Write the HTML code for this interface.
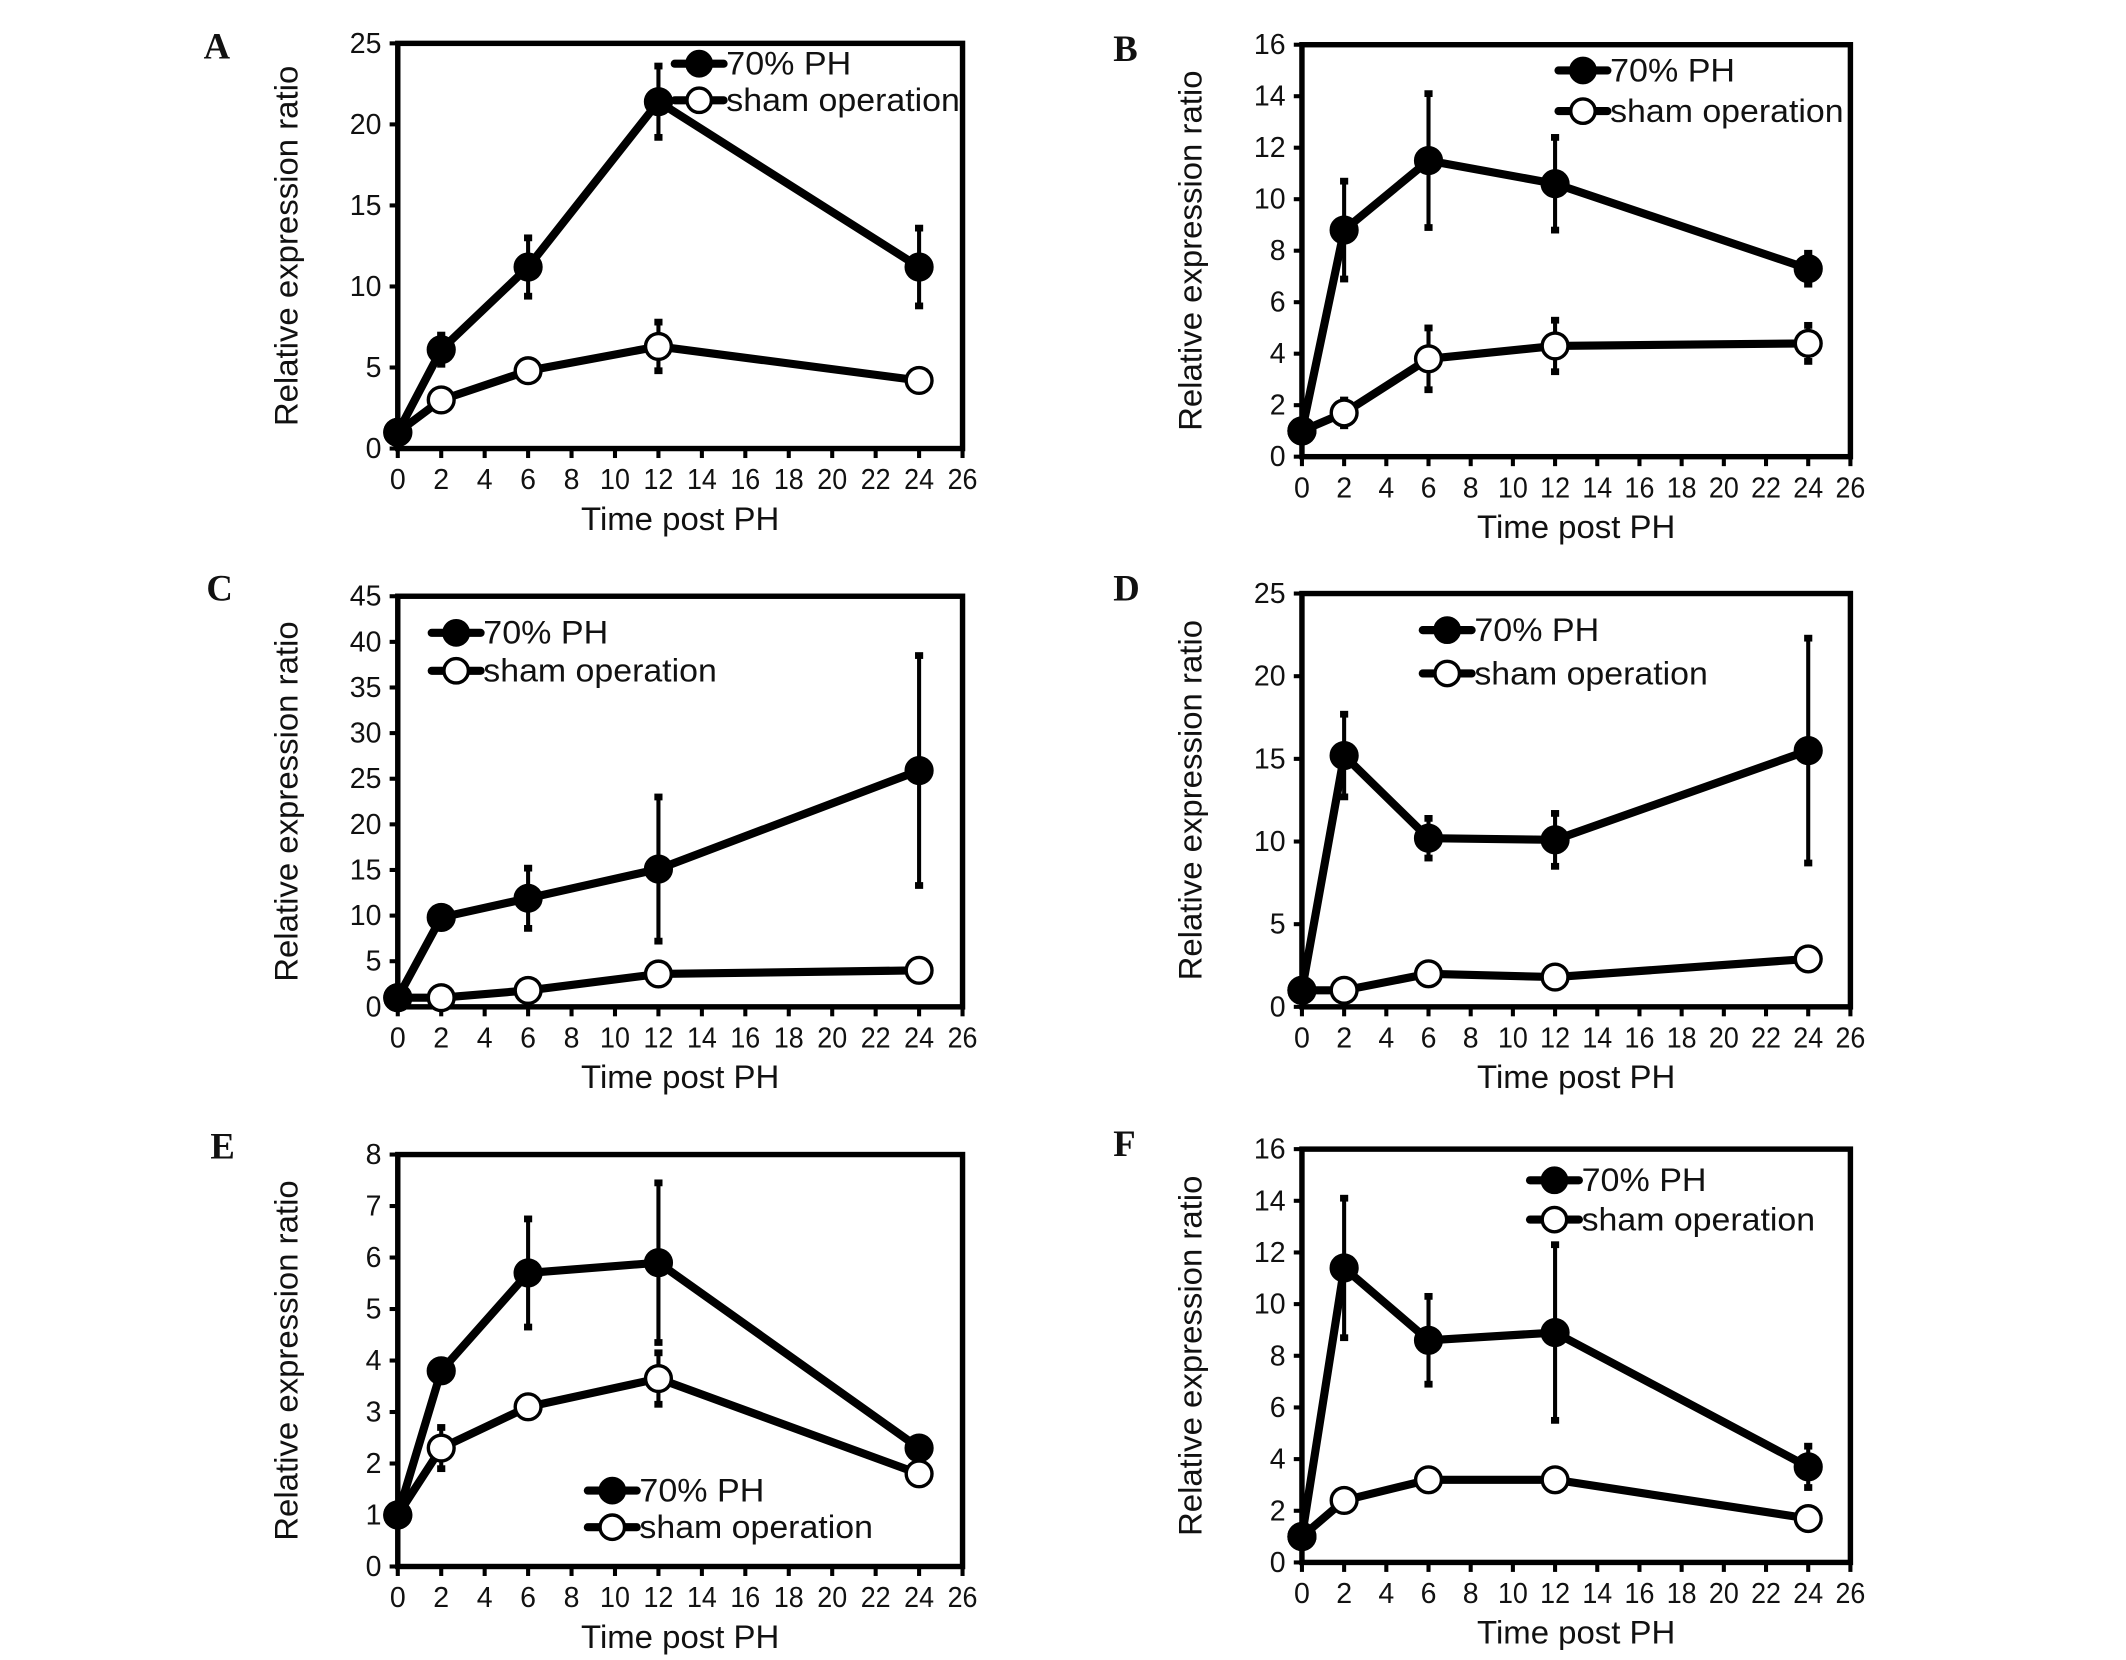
<!DOCTYPE html>
<html><head><meta charset="utf-8"><style>
html,body{margin:0;padding:0;background:#fff;}
svg{display:block;}
text{font-family:"Liberation Sans",Arial,sans-serif;fill:#111;}
</style></head>
<body>
<svg id="fig" width="2126" height="1660" viewBox="0 0 1566 1225" preserveAspectRatio="none" xmlns="http://www.w3.org/2000/svg"></svg>
<script>
// shared x categories (hours post PH)
const timePoints = [0, 2, 6, 12, 24];
const xTicks = [0,2,4,6,8,10,12,14,16,18,20,22,24,26];

// Panel A
const phA = [1, 6.1, 11.2, 21.4, 11.2];
const phErrA = [0.3, 0.9, 1.8, 2.2, 2.4];
const shamA = [1, 3.0, 4.8, 6.3, 4.2];
const shamErrA = [0, 0.3, 0.3, 1.5, 0.3];
const yTicksA = [0,5,10,15,20,25];
// Panel B
const phB = [1, 8.8, 11.5, 10.6, 7.3];
const phErrB = [0, 1.9, 2.6, 1.8, 0.6];
const shamB = [1, 1.7, 3.8, 4.3, 4.4];
const shamErrB = [0, 0.5, 1.2, 1.0, 0.7];
const yTicksB = [0,2,4,6,8,10,12,14,16];
// Panel C
const phC = [1, 9.8, 11.9, 15.1, 25.9];
const phErrC = [0, 0.5, 3.3, 7.9, 12.6];
const shamC = [1, 1.0, 1.8, 3.6, 4.0];
const shamErrC = [0, 0.2, 0.2, 0.3, 0.3];
const yTicksC = [0,5,10,15,20,25,30,35,40,45];
// Panel D
const phD = [1, 15.2, 10.2, 10.1, 15.5];
const phErrD = [0, 2.5, 1.2, 1.6, 6.8];
const shamD = [1, 1.0, 2.0, 1.8, 2.9];
const shamErrD = [0, 0.2, 0.3, 0.3, 0.3];
const yTicksD = [0,5,10,15,20,25];
// Panel E
const phE = [1, 3.8, 5.7, 5.9, 2.3];
const phErrE = [0, 0.1, 1.05, 1.55, 0.1];
const shamE = [1, 2.3, 3.1, 3.65, 1.8];
const shamErrE = [0, 0.4, 0.15, 0.5, 0.2];
const yTicksE = [0,1,2,3,4,5,6,7,8];
// Panel F
const phF = [1, 11.4, 8.6, 8.9, 3.7];
const phErrF = [0, 2.7, 1.7, 3.4, 0.8];
const shamF = [1, 2.4, 3.2, 3.2, 1.7];
const shamErrF = [0, 0.2, 0.2, 0.2, 0.2];
const yTicksF = [0,2,4,6,8,10,12,14,16];

const NS = "http://www.w3.org/2000/svg";
const svg = document.getElementById('fig');
function mk(tag, attrs, parent){
  const e = document.createElementNS(NS, tag);
  for (const k in attrs) e.setAttribute(k, attrs[k]);
  (parent||svg).appendChild(e);
  return e;
}
function panel(o){
  const g = mk('g', {});
  
  
  const ymax = o.yTicks[o.yTicks.length-1];
  const xs = v => o.L + (v/26)*(o.R - o.L);
  const ys = v => o.B - (v/ymax)*(o.B - o.T);
  const lt = mk('text', {x:o.lx, y:o.ly, 'font-size':27, style:'font-family:"Liberation Serif",serif;font-weight:bold'}, g);
  lt.textContent = o.letter;
  
  
  const box = mk('rect', {x:o.L, y:o.T, width:o.R-o.L, height:o.B-o.T, fill:'none', stroke:'#000', 'stroke-width':4}, g);
  
  
  o.yTicks.forEach(t => {
    const y = ys(t);
    const tk = mk('line', {x1:o.L-6, x2:o.L, y1:y, y2:y, stroke:'#000', 'stroke-width':3}, g);
    
    
    const tl = mk('text', {x:o.L-12, y:y+7, 'font-size':21, 'text-anchor':'end'}, g);
    tl.textContent = t;
    
    
  });
  xTicks.forEach(t => {
    const x = xs(t);
    const tk = mk('line', {x1:x, x2:x, y1:o.B, y2:o.B+7, stroke:'#000', 'stroke-width':3}, g);
    
    
    const attrs = {x:x, y:o.B+30, 'font-size':21, 'text-anchor':'middle'};
    if (String(t).length > 1) { attrs.textLength = 22; attrs.lengthAdjust = 'spacingAndGlyphs'; }
    const tl = mk('text', attrs, g);
    tl.textContent = t;
    
    
  });
  const xt = mk('text', {x:(o.L+o.R)/2, y:o.B+60, 'font-size':24, 'text-anchor':'middle', textLength:146, lengthAdjust:'spacingAndGlyphs'}, g);
  xt.textContent = 'Time post PH';
  
  
  const cy = (o.T+o.B)/2;
  const yt = mk('text', {x:o.L-74, y:cy, 'font-size':24, 'text-anchor':'middle', textLength:266, lengthAdjust:'spacingAndGlyphs', transform:'rotate(-90 '+(o.L-74)+' '+cy+')'}, g);
  yt.textContent = 'Relative expression ratio';
  
  

  function series(vals, errs, filled, name){
    const sg = mk('g', {}, g);
    
    
    vals.forEach((v,i) => {
      if (errs[i] <= 0) return;
      const x = xs(timePoints[i]);
      const e1 = mk('line', {x1:x, x2:x, y1:ys(v-errs[i]), y2:ys(v+errs[i]), stroke:'#000', 'stroke-width':3}, sg);
      
      
      [v-errs[i], v+errs[i]].forEach(ev => {
        const c = mk('line', {x1:x-3, x2:x+3, y1:ys(ev), y2:ys(ev), stroke:'#000', 'stroke-width':5}, sg);
        
        
      });
    });
    const pts = vals.map((v,i) => xs(timePoints[i]) + ',' + ys(v)).join(' ');
    const pl = mk('polyline', {points:pts, fill:'none', stroke:'#000', 'stroke-width':6, 'stroke-linejoin':'round'}, sg);
    
    
    vals.forEach((v,i) => {
      const c = mk('circle', {cx:xs(timePoints[i]), cy:ys(v), r:9.5, fill: filled ? '#000' : '#fff', stroke:'#000', 'stroke-width':2.5}, sg);
      
      
    });
  }
  series(o.sham, o.shamErr, false, 'sham-series');
  series(o.ph, o.phErr, true, 'ph-series');

  const lg = mk('g', {}, g);
  
  
  [['70% PH', true, o.gy1, 92], ['sham operation', false, o.gy2, 172]].forEach(([label, filled, y, w]) => {
    const ln = mk('line', {x1:o.gx, x2:o.gx+36, y1:y, y2:y, stroke:'#000', 'stroke-width':6, 'stroke-linecap':'round'}, lg);
    
    
    const c = mk('circle', {cx:o.gx+18, cy:y, r:9, fill: filled ? '#000' : '#fff', stroke:'#000', 'stroke-width':2.5}, lg);
    
    
    const t = mk('text', {x:o.gx+38, y:y+8, 'font-size':24, textLength:w, lengthAdjust:'spacingAndGlyphs'}, lg);
    t.textContent = label;
    
    
  });
}

panel({letter:'A', lx:150, ly:43, L:293, R:709, T:32, B:331, yTicks:yTicksA, ph:phA, phErr:phErrA, sham:shamA, shamErr:shamErrA, gx:497, gy1:47, gy2:74});
panel({letter:'B', lx:820, ly:45, L:959, R:1363, T:33, B:337, yTicks:yTicksB, ph:phB, phErr:phErrB, sham:shamB, shamErr:shamErrB, gx:1148, gy1:52, gy2:82});
panel({letter:'C', lx:152, ly:443, L:293, R:709, T:440, B:743, yTicks:yTicksC, ph:phC, phErr:phErrC, sham:shamC, shamErr:shamErrC, gx:318, gy1:467, gy2:495});
panel({letter:'D', lx:820, ly:443, L:959, R:1363, T:438, B:743, yTicks:yTicksD, ph:phD, phErr:phErrD, sham:shamD, shamErr:shamErrD, gx:1048, gy1:465, gy2:497});
panel({letter:'E', lx:155, ly:855, L:293, R:709, T:852, B:1156, yTicks:yTicksE, ph:phE, phErr:phErrE, sham:shamE, shamErr:shamErrE, gx:433, gy1:1100, gy2:1127});
panel({letter:'F', lx:820, ly:853, L:959, R:1363, T:848, B:1153, yTicks:yTicksF, ph:phF, phErr:phErrF, sham:shamF, shamErr:shamErrF, gx:1127, gy1:871, gy2:900});
</script>
</body></html>
